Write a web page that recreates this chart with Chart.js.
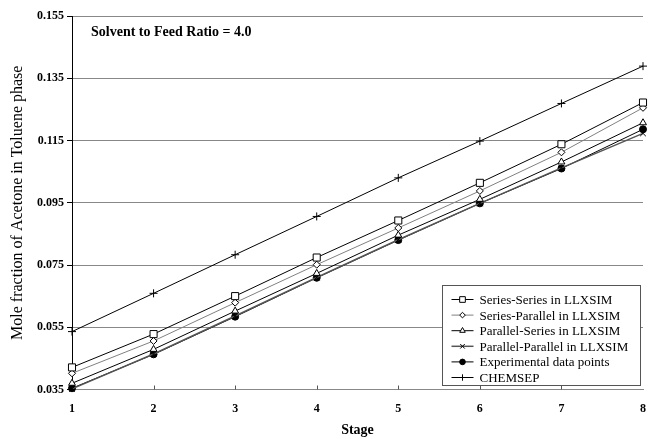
<!DOCTYPE html>
<html>
<head>
<meta charset="utf-8">
<script src="https://cdn.jsdelivr.net/npm/chart.js@4.4.0/dist/chart.umd.min.js"></script>
<style>
html, body { margin: 0; padding: 0; background: #fff; }
</style>
</head>
<body>
<canvas id="stageChart" width="649" height="439"></canvas>
<script>
// values
var stages = ['1', '2', '3', '4', '5', '6', '7', '8'];
var yTicks = [0.035, 0.055, 0.075, 0.095, 0.115, 0.135, 0.155];

var seriesSeries     = [0.0421, 0.0528, 0.0650, 0.0774, 0.0893, 0.1014, 0.1138, 0.1272];
var seriesParallel   = [0.0402, 0.0506, 0.0629, 0.0751, 0.0869, 0.0988, 0.1112, 0.1255];
var parallelSeries   = [0.0370, 0.0479, 0.0602, 0.0723, 0.0846, 0.0961, 0.1081, 0.1207];
var parallelParallel = [0.0352, 0.0464, 0.0586, 0.0710, 0.0831, 0.0948, 0.1062, 0.1173];
var experimental     = [0.0354, 0.0463, 0.0584, 0.0709, 0.0830, 0.0948, 0.1060, 0.1186];
var chemsep          = [0.0536, 0.0659, 0.0783, 0.0906, 0.1030, 0.1148, 0.1269, 0.1389];

var serif = '"Liberation Serif", "Times New Roman", serif';

function make_series(label, values, style, radius, lineColor, fill, lineWidth) {
    return {
        label: label,
        data: values,
        borderColor: lineColor,
        borderWidth: lineWidth,
        pointStyle: style,
        pointRadius: radius,
        pointBorderColor: '#000',
        pointBackgroundColor: fill,
        pointBorderWidth: 1,
        tension: 0,
        clip: false
    };
}

// legend box drawn inside the plot, bottom right
var legend_box = {
    id: 'legendBox',
    afterDraw: function (chart) {
        var ctx = chart.ctx;
        var area = chart.chartArea;
        var w = 198, rowH = 15.6, h = 100;
        var x0 = Math.round(area.right - 3 - w) + 0.5;
        var y0 = Math.round(area.bottom - 4.5 - h) + 0.5;
        ctx.save();
        ctx.fillStyle = '#fff';
        ctx.fillRect(x0, y0, w, h);
        ctx.strokeStyle = '#555';
        ctx.lineWidth = 1;
        ctx.strokeRect(x0, y0, w, h);
        ctx.font = '13px ' + serif;
        ctx.textBaseline = 'middle';
        chart.data.datasets.forEach(function (ds, i) {
            var y = y0 + 14 + i * rowH;
            ctx.strokeStyle = ds.borderColor;
            ctx.lineWidth = ds.borderWidth;
            ctx.beginPath();
            ctx.moveTo(x0 + 9, y);
            ctx.lineTo(x0 + 31, y);
            ctx.stroke();
            ctx.fillStyle = ds.pointBackgroundColor;
            ctx.strokeStyle = ds.pointBorderColor;
            ctx.lineWidth = 1;
            Chart.helpers.drawPoint(ctx, {
                pointStyle: ds.pointStyle,
                radius: ds.pointRadius * 0.8,
                rotation: 0,
                borderWidth: 1
            }, x0 + 20, y);
            ctx.fillStyle = '#000';
            ctx.fillText(ds.label, x0 + 37, y + 1);
        });
        ctx.restore();
    }
};

// ratio note and inward x ticks
var extras = {
    id: 'extras',
    afterDraw: function (chart) {
        var ctx = chart.ctx;
        var area = chart.chartArea;
        var xs = chart.scales.x;
        ctx.save();
        ctx.strokeStyle = '#555';
        ctx.lineWidth = 1;
        for (var i = 1; i < stages.length - 1; i++) {
            var px = Math.round(xs.getPixelForValue(i)) + 0.5;
            ctx.beginPath();
            ctx.moveTo(px, area.bottom);
            ctx.lineTo(px, area.bottom - 4);
            ctx.stroke();
        }
        ctx.fillStyle = '#000';
        ctx.font = 'bold 14px ' + serif;
        ctx.textBaseline = 'middle';
        ctx.fillText('Solvent to Feed Ratio = 4.0', area.left + 19, area.top + 16);
        ctx.restore();
    }
};

function draw_stage_chart(canvas_id) {
    var ctx = document.getElementById(canvas_id).getContext('2d');

    window.stage_chart = new Chart(ctx, {
        type: 'line',
        data: {
            labels: stages,
            datasets: [
                make_series('Series-Series in LLXSIM', seriesSeries, 'rect', 5, '#000', '#fff', 1),
                make_series('Series-Parallel in LLXSIM', seriesParallel, 'rectRot', 3.5, '#808080', '#fff', 1),
                make_series('Parallel-Series in LLXSIM', parallelSeries, 'triangle', 4, '#000', '#fff', 1),
                make_series('Parallel-Parallel in LLXSIM', parallelParallel, 'crossRot', 4, '#555', '#fff', 1.5),
                make_series('Experimental data points', experimental, 'circle', 3.5, '#000', '#000', 1),
                make_series('CHEMSEP', chemsep, 'cross', 4, '#000', '#fff', 1)
            ]
        },
        options: {
            responsive: false,
            animation: false,
            layout: {
                padding: { top: 16, right: 5, left: 0, bottom: 0 }
            },
            plugins: {
                legend: { display: false },
                tooltip: { enabled: false }
            },
            scales: {
                x: {
                    type: 'category',
                    offset: false,
                    grid: { display: false, drawTicks: false },
                    border: { display: true, color: '#888', width: 1 },
                    ticks: {
                        color: '#000',
                        padding: 12,
                        maxRotation: 0,
                        font: { family: serif, size: 12, weight: 'bold' }
                    },
                    title: {
                        display: true,
                        text: 'Stage',
                        color: '#000',
                        padding: { top: 0, bottom: 0 },
                        font: { family: serif, size: 14, weight: 'bold' }
                    },
                    afterFit: function (scale) {
                        scale.height = 49.5;
                        scale.paddingLeft = 0;
                        scale.paddingRight = 0;
                    }
                },
                y: {
                    min: 0.035,
                    max: 0.155,
                    grid: {
                        color: '#888',
                        lineWidth: 1,
                        tickLength: 5,
                        tickColor: '#000'
                    },
                    border: { display: true, color: '#000', width: 1 },
                    afterBuildTicks: function (scale) {
                        scale.ticks = yTicks.map(function (v) { return { value: v }; });
                    },
                    ticks: {
                        color: '#000',
                        padding: 3,
                        font: { family: serif, size: 12, weight: 'bold' },
                        callback: function (v) { return Number(v).toFixed(3); }
                    },
                    title: {
                        display: true,
                        text: 'Mole fraction of Acetone in Toluene phase',
                        color: '#000',
                        padding: { top: 8, bottom: 0 },
                        font: { family: serif, size: 16 }
                    },
                    afterFit: function (scale) { scale.width = 72; }
                }
            }
        },
        plugins: [extras, legend_box]
    });
}

draw_stage_chart('stageChart');
</script>
</body>
</html>
